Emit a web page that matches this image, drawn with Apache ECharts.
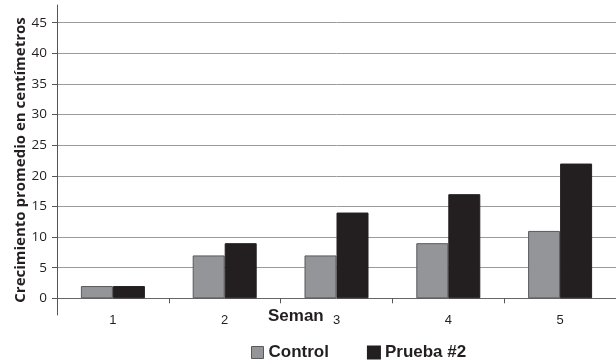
<!DOCTYPE html>
<html>
<head>
<meta charset="utf-8">
<script src="https://cdn.jsdelivr.net/npm/echarts@6/dist/echarts.min.js"></script>
<style>html,body{margin:0;padding:0;background:#fff}#c{width:616px;height:361px}</style>
</head>
<body>
<div id="c"></div>
<script>
const categories = ['1', '2', '3', '4', '5'];
const controlValues = [2, 7, 7, 9, 11];
const pruebaValues = [2, 9, 14, 17, 22];
const seriesNames = ['Control', 'Prueba #2'];
const yTitle = 'Crecimiento promedio en centímetros';
const xTitle = 'Seman';

const chart = echarts.init(document.getElementById('c'), null, {renderer: 'canvas'});
const txt = '#231f20';
chart.setOption({
  animation: false,
  backgroundColor: '#fff',
  title: {
    text: xTitle, left: 263, top: 303,
    textStyle: {fontFamily: 'Liberation Sans', fontWeight: 'bold', fontSize: 17, color: txt}
  },
  legend: {
    left: 246, top: 339, itemWidth: 12, itemHeight: 12, itemGap: 38,
    icon: 'rect',
    textStyle: {fontFamily: 'Liberation Sans', fontWeight: 'bold', fontSize: 17, color: txt},
    data: [
      {name: seriesNames[0], itemStyle: {borderColor: '#58595b', borderWidth: 1}},
      {name: seriesNames[1]}
    ]
  },
  grid: [
    {left: 57, width: 560, top: 22.7, bottom: 62.7, containLabel: false},
    {left: 57, width: 560, top: 5, bottom: 46, containLabel: false}
  ],
  xAxis: [
    {
      type: 'category', gridIndex: 0, data: categories,
      axisLine: {show: true, lineStyle: {color: '#666', width: 1}},
      axisTick: {show: true, length: 5, lineStyle: {color: '#555'}},
      axisLabel: {fontFamily: 'Liberation Sans', fontSize: 13, color: txt, margin: 16}
    },
    {type: 'value', gridIndex: 1, show: false}
  ],
  yAxis: [
    {
      type: 'value', gridIndex: 0, min: 0, max: 45, interval: 5,
      axisLine: {show: false},
      axisTick: {show: true, length: 5, lineStyle: {color: '#555'}},
      axisLabel: {fontFamily: 'Open Sans', fontSize: 13.5, color: txt, margin: 10},
      splitLine: {show: true, lineStyle: {color: '#9a9a9a', width: 1}}
    },
    {
      type: 'value', gridIndex: 1, min: 0, max: 1,
      axisLine: {show: true, lineStyle: {color: '#555', width: 1}},
      axisTick: {show: false}, axisLabel: {show: false}, splitLine: {show: false},
      name: yTitle, nameLocation: 'middle', nameGap: 29,
      nameTextStyle: {fontFamily: 'Open Sans', fontWeight: 'bold', fontSize: 15, color: txt}
    }
  ],
  series: [
    {
      name: seriesNames[0], type: 'bar', xAxisIndex: 0, yAxisIndex: 0,
      data: controlValues, barWidth: 32, barGap: '0%',
      itemStyle: {color: '#939598', borderColor: '#58595b', borderWidth: 1}
    },
    {
      name: seriesNames[1], type: 'bar', xAxisIndex: 0, yAxisIndex: 0,
      data: pruebaValues, barWidth: 32, barGap: '0%',
      itemStyle: {color: '#231f20', borderColor: '#231f20', borderWidth: 1}
    }
  ]
});
</script>
</body>
</html>
